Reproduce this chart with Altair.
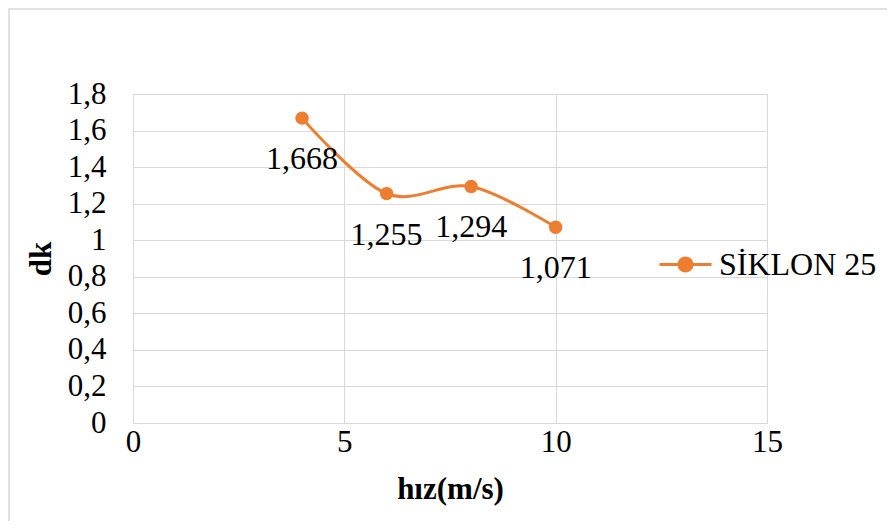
import altair as alt
import pandas as pd

hiz = [4, 6, 8, 10]
dk = [1.668, 1.255, 1.294, 1.071]
series = ["SİKLON 25"] * 4
x_ticks = [0, 5, 10, 15]
y_ticks = [0, 0.2, 0.4, 0.6, 0.8, 1.0, 1.2, 1.4, 1.6, 1.8]

df = pd.DataFrame({"hiz": hiz, "dk": dk, "seri": series})

FONT = "Liberation Serif"
ORANGE = "#ED7D31"
GRID = "#d9d9d9"

x = alt.X("hiz:Q", scale=alt.Scale(domain=[0, 15], nice=False),
          axis=alt.Axis(values=x_ticks, title="hız(m/s)", grid=True, gridColor=GRID,
                        domainColor=GRID, ticks=False, labelPadding=4, labelFlush=False,
                        labelFont=FONT, labelFontSize=31, labelColor="black",
                        titleFont=FONT, titleFontSize=31, titleFontWeight="bold",
                        titleColor="black", titlePadding=17))
y = alt.Y("dk:Q", scale=alt.Scale(domain=[0, 1.8], nice=False),
          axis=alt.Axis(values=y_ticks, title="dk", grid=True, gridColor=GRID,
                        domainColor=GRID, ticks=False, labelPadding=27, labelFlush=False,
                        labelExpr="replace(toString(datum.value), '.', ',')",
                        labelFont=FONT, labelFontSize=31, labelColor="black",
                        titleFont=FONT, titleFontSize=31, titleFontWeight="bold",
                        titleColor="black", titlePadding=10))

color = alt.Color("seri:N", scale=alt.Scale(domain=["SİKLON 25"], range=[ORANGE]),
                  legend=alt.Legend(title=None, orient="none", legendX=525, legendY=143,
                                    symbolType="M-1,0L1,0M-0.25,0A0.25,0.25 0 1,1 0.25,0A0.25,0.25 0 1,1 -0.25,0Z",
                                    symbolSize=2704, symbolStrokeWidth=3,
                                    symbolFillColor=ORANGE, symbolStrokeColor=ORANGE,
                                    labelFont=FONT, labelFontSize=32, labelColor="black",
                                    labelLimit=300, labelOffset=6))

base = alt.Chart(df)

line = base.mark_line(interpolate="cardinal", strokeWidth=3).encode(x=x, y=y, color=color)
pts = base.mark_circle(size=180, opacity=1).encode(x=x, y=y, color=alt.Color("seri:N", scale=alt.Scale(domain=["SİKLON 25"], range=[ORANGE]), legend=None))
labels = base.transform_calculate(
    lbl="replace(toString(datum.dk), '.', ',')"
).mark_text(font=FONT, fontSize=32, dy=41, color="black").encode(x=x, y=y, text="lbl:N")

border = alt.Chart(alt.Data(values=[{}])).mark_rect(fill=None, stroke=GRID, strokeWidth=1.5).encode(
    x=alt.value(-124), x2=alt.value(900), y=alt.value(-85), y2=alt.value(700))

chart = alt.layer(border, line, pts, labels).properties(
    width=634, height=329,
    autosize=alt.AutoSizeParams(type="none"),
    padding={"left": 125, "top": 86, "right": 120, "bottom": 98},
).configure(background="white", font=FONT).configure_view(stroke=None)

chart.save("out.html", embed_options={"renderer": "svg", "actions": False})
